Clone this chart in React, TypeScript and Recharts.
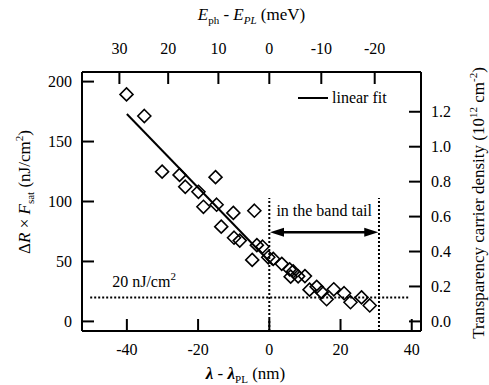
import React from 'react';
import { ComposedChart, Scatter, XAxis, YAxis, ReferenceLine, Legend } from 'recharts';

const FONT = '"Liberation Serif", "Times New Roman", Times, "DejaVu Serif", serif';

// measured points: detuning (nm) and dR x Fsat (nJ/cm2)
const detuningNm = [
  -40.1, -35.1, -30.1, -25.2, -15.1, -23.6, -19.9, -18.5, -14.8, -10.1, -4.2, -13.5,
  -9.9, -8.3, -3.5, -1.9, -4.8, -0.3, 1.1, 3.5, 5.7, 6.7, 6.0, 8.1, 10.0, 11.3, 13.3,
  14.7, 16.1, 18.1, 21.0, 22.8, 25.9, 28.2,
];
const fluenceProduct = [
  189.3, 171.3, 124.9, 122.2, 120.3, 112.3, 108.1, 95.6, 97.3, 90.5, 92.3, 79.0,
  69.8, 67.4, 63.6, 62.3, 51.3, 53.5, 52.1, 48.0, 43.4, 41.7, 37.3, 37.6, 37.8, 26.5, 28.8,
  24.4, 18.5, 26.8, 23.5, 16.0, 20.0, 13.3,
];

const fitNm = [-40, 1];
const fitValue = [173, 47];

const bottomTicks = [-40, -20, 0, 20, 40];
const leftTicks = [0, 50, 100, 150, 200];
const rightTicks = [0, 0.2, 0.4, 0.6, 0.8, 1.0, 1.2];
const topTickNm = [-42.1, -28.4, -14.3, 0, 14.6, 29.6];
const topTickLabels = ['30', '20', '10', '0', '-10', '-20'];

const xDomain = [-52.6, 42.6];
const yDomain = [-8, 208];
const densityScale = 145.7; // nJ/cm2 per 10^12 cm^-2

const threshold = 20;
const bandTailEdges = [0, 30.8];
const bandTailTop = 103;
const arrowLevel = 74.3;

const points = detuningNm.map((x, i) => ({ x, y: fluenceProduct[i] }));
const fitLine = fitNm.map((x, i) => ({ x, y: fitValue[i] }));

const Diamond = (props: any) => {
  const { cx, cy } = props;
  const r = 6.5;
  return (
    <polygon
      points={`${cx},${cy - r} ${cx + r},${cy} ${cx},${cy + r} ${cx - r},${cy}`}
      fill="none"
      stroke="#000"
      strokeWidth={1.6}
    />
  );
};

const NoDot = () => <g />;

const Arrow = (props: any) => {
  const { x1, y1, x2, y2 } = props;
  const h = 14;
  const w = 4.5;
  return (
    <g>
      <line x1={x1 + h - 2} y1={y1} x2={x2 - h + 2} y2={y2} stroke="#000" strokeWidth={2.5} />
      <polygon points={`${x1},${y1} ${x1 + h},${y1 - w} ${x1 + h},${y1 + w}`} fill="#000" />
      <polygon points={`${x2},${y2} ${x2 - h},${y2 - w} ${x2 - h},${y2 + w}`} fill="#000" />
    </g>
  );
};

const ThresholdLabel = ({ viewBox }: any) => (
  <text x={viewBox.x + 22} y={viewBox.y - 10} style={{ fontFamily: FONT }} fontSize={16} fill="#000">
    20 nJ/cm<tspan dy={-7} fontSize={11}>2</tspan>
  </text>
);

const TopTitle = ({ viewBox }: any) => (
  <text x={viewBox.x + viewBox.width / 2} y={viewBox.y - 22} textAnchor="middle" style={{ fontFamily: FONT }} fontSize={17} fill="#000">
    <tspan fontStyle="italic">E</tspan>
    <tspan fontSize={11} dy={4}>ph</tspan>
    <tspan dy={-4}> - </tspan>
    <tspan fontStyle="italic">E</tspan>
    <tspan fontSize={11} fontStyle="italic" dy={4}>PL</tspan>
    <tspan dy={-4}> (meV)</tspan>
  </text>
);

const BottomTitle = ({ viewBox }: any) => (
  <text x={viewBox.x + viewBox.width / 2 - 6} y={viewBox.y + 48} textAnchor="middle" style={{ fontFamily: FONT }} fontSize={17} fill="#000">
    <tspan fontStyle="italic" fontWeight="bold">λ</tspan>
    <tspan> - </tspan>
    <tspan fontStyle="italic" fontWeight="bold">λ</tspan>
    <tspan fontSize={11} dy={4}>PL</tspan>
    <tspan dy={-4}> (nm)</tspan>
  </text>
);

const LeftTitle = ({ viewBox }: any) => {
  const x = viewBox.x - 2;
  const y = 192;
  return (
    <text x={x} y={y} transform={`rotate(-90 ${x} ${y})`} textAnchor="middle" style={{ fontFamily: FONT }} fontSize={17} fill="#000">
      <tspan>Δ</tspan>
      <tspan fontStyle="italic">R</tspan>
      <tspan> × </tspan>
      <tspan fontStyle="italic">F</tspan>
      <tspan fontSize={11} dy={4}>sat</tspan>
      <tspan dy={-4}> (nJ/cm</tspan>
      <tspan fontSize={11} dy={-7}>2</tspan>
      <tspan dy={7}>)</tspan>
    </text>
  );
};

const RightTitle = ({ viewBox }: any) => {
  const x = viewBox.x + 63;
  const y = 203;
  return (
    <text x={x} y={y} transform={`rotate(-90 ${x} ${y})`} textAnchor="middle" style={{ fontFamily: FONT }} fontSize={17} fill="#000">
      <tspan>Transparency carrier density (10</tspan>
      <tspan fontSize={11} dy={-7}>12</tspan>
      <tspan dy={7}> cm</tspan>
      <tspan fontSize={11} dy={-7}>-2</tspan>
      <tspan dy={7}>)</tspan>
    </text>
  );
};

const FitLegend = () => (
  <div style={{ display: 'flex', alignItems: 'center', fontFamily: FONT, fontSize: 16, color: '#000', whiteSpace: 'nowrap' }}>
    <span style={{ display: 'inline-block', width: 30, height: 2, background: '#000', marginRight: 4 }} />
    <span>linear fit</span>
  </div>
);

const tickStyle = { fill: '#000', fontSize: 16, style: { fontFamily: FONT } };
const axisLine = { stroke: '#000', strokeWidth: 2 };
const tickLine = { stroke: '#000', strokeWidth: 2 };

export default function App() {
  return (
    <div style={{ position: 'absolute', left: 0, top: 0, width: 489, height: 385, background: '#fff', fontFamily: FONT }}>
      <ComposedChart width={489} height={385} margin={{ top: 42, right: 18, bottom: 24, left: 32 }} style={{ fontFamily: FONT }}>
        <XAxis
          xAxisId="bottom"
          dataKey="x"
          type="number"
          domain={xDomain}
          ticks={bottomTicks}
          allowDataOverflow
          axisLine={axisLine}
          tickLine={tickLine}
          tickSize={-12}
          tickMargin={25}
          tick={tickStyle}
          height={30}
          label={BottomTitle}
        />
        <XAxis
          xAxisId="top"
          dataKey="x"
          orientation="top"
          type="number"
          domain={xDomain}
          ticks={topTickNm}
          interval={0}
          tickFormatter={(v: number) => topTickLabels[topTickNm.indexOf(v)]}
          allowDataOverflow
          axisLine={axisLine}
          tickLine={tickLine}
          tickSize={-12}
          tickMargin={30}
          tick={tickStyle}
          height={30}
          label={TopTitle}
        />
        <YAxis
          yAxisId="left"
          dataKey="y"
          type="number"
          domain={yDomain}
          ticks={leftTicks}
          allowDataOverflow
          axisLine={axisLine}
          tickLine={tickLine}
          tickSize={-12}
          tickMargin={22}
          tick={tickStyle}
          width={50}
          label={LeftTitle}
        />
        <YAxis
          yAxisId="right"
          orientation="right"
          type="number"
          domain={[yDomain[0] / densityScale, yDomain[1] / densityScale]}
          ticks={rightTicks}
          tickFormatter={(v: number) => v.toFixed(1)}
          allowDataOverflow
          axisLine={axisLine}
          tickLine={tickLine}
          tickSize={-12}
          tickMargin={22}
          tick={tickStyle}
          width={50}
          label={RightTitle}
        />
        <ReferenceLine
          xAxisId="bottom"
          yAxisId="left"
          segment={[{ x: -50.3, y: threshold }, { x: 39.3, y: threshold }]}
          stroke="#000"
          strokeWidth={2}
          strokeDasharray="2 2"
          label={ThresholdLabel}
        />
        {bandTailEdges.map((edge) => (
          <ReferenceLine
            key={edge}
            xAxisId="bottom"
            yAxisId="left"
            segment={[{ x: edge, y: yDomain[0] }, { x: edge, y: bandTailTop }]}
            stroke="#000"
            strokeWidth={2}
            strokeDasharray="2 2"
          />
        ))}
        <ReferenceLine
          xAxisId="bottom"
          yAxisId="left"
          segment={[{ x: bandTailEdges[0] + 0.2, y: arrowLevel }, { x: bandTailEdges[1] - 0.2, y: arrowLevel }]}
          shape={Arrow}
          label={{ value: 'in the band tail', position: 'top', offset: 16, fill: '#000', fontSize: 16, style: { fontFamily: FONT } }}
        />
        <Scatter
          xAxisId="bottom"
          yAxisId="left"
          data={fitLine}
          dataKey="y"
          line={{ stroke: '#000', strokeWidth: 2 }}
          shape={NoDot}
          isAnimationActive={false}
        />
        <Scatter
          xAxisId="bottom"
          yAxisId="left"
          data={points}
          dataKey="y"
          shape={Diamond}
          isAnimationActive={false}
        />
        <Legend
          layout="horizontal"
          verticalAlign="middle"
          align="center"
          content={FitLegend}
          wrapperStyle={{ top: 89, left: 298, width: 'auto', height: 'auto' }}
        />
      </ComposedChart>
    </div>
  );
}
